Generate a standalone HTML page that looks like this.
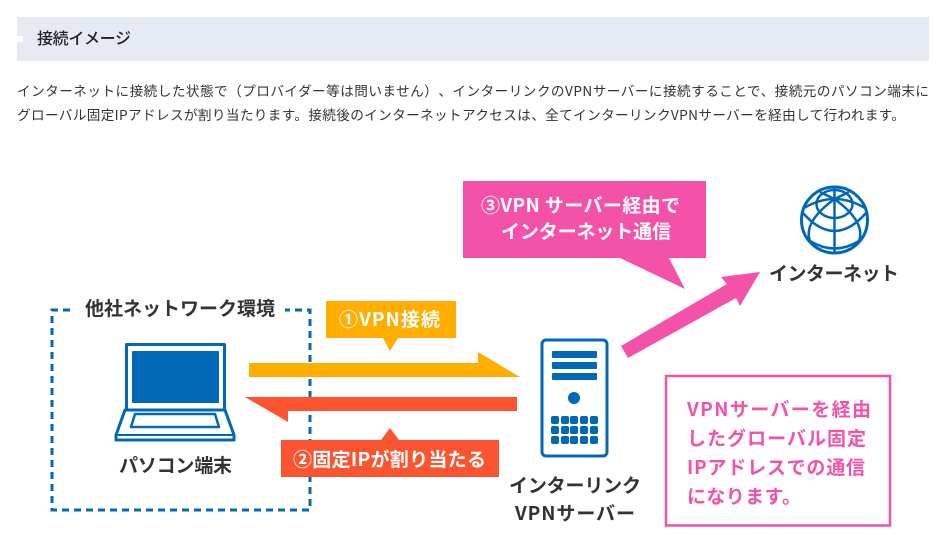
<!DOCTYPE html>
<html lang="ja">
<head>
<meta charset="utf-8">
<title>接続イメージ</title>
<style>
html,body{margin:0;padding:0;background:#fff;width:942px;height:560px;overflow:hidden}
svg{display:block}
text{font-family:"Liberation Sans","Noto Sans CJK JP",sans-serif;text-spacing-trim:space-all}
.cjk{font-family:"Noto Sans CJK JP","Liberation Sans",sans-serif}
.b{font-weight:700;font-size:19px}
.d{fill:#333}
.w{fill:#fff}
.p{fill:#f452a8}
</style>
</head>
<body>
<svg width="942" height="560" viewBox="0 0 942 560" xmlns="http://www.w3.org/2000/svg">
<rect x="17" y="17" width="912" height="44" fill="#e6eaf3"/>
<rect x="17" y="36" width="6" height="6" fill="#fff"/>
<text class="cjk" x="37" y="44" font-size="16" font-weight="500" fill="#222" textLength="94" lengthAdjust="spacing">接続イメージ</text>
<text class="cjk" x="17" y="96" font-size="13.600" fill="#333" textLength="912" lengthAdjust="spacing">インターネットに接続した状態で（プロバイダー等は問いません）、インターリンクのVPNサーバーに接続することで、接続元のパソコン端末に</text>
<text class="cjk" x="17" y="120" font-size="13.600" fill="#333" textLength="888" lengthAdjust="spacing">グローバル固定IPアドレスが割り当たります。接続後のインターネットアクセスは、全てインターリンクVPNサーバーを経由して行われます。</text>

<g fill="none" stroke="#0068b7" stroke-width="3" stroke-dasharray="7 5">
<path d="M70 310H52V510H310V310H285"/>
</g>
<text class="cjk b d" x="85" y="315" textLength="190" lengthAdjust="spacing">他社ネットワーク環境</text>

<g fill="none" stroke="#0068b7" stroke-width="3" stroke-linejoin="round">
<path d="M126.500 409V344.500H224.500V409"/>
<path d="M125 410H225L234 435V440H116V435Z"/>
<path d="M135 414H215L219 427H131Z" stroke-width="2.500"/>
<path d="M116 435H234" stroke-width="2"/>
</g>
<rect x="132" y="351" width="87" height="52" rx="1" fill="#0068b7"/>
<text class="cjk b d" x="119" y="472" textLength="113" lengthAdjust="spacing">パソコン端末</text>

<polygon points="249,363 478,363 478,352 520,377 249,377" fill="#ffae00"/>
<polygon points="517,397 245,397 288,422 288,411 517,411" fill="#fc5431"/>

<polygon points="326,301 456,301 456,338 398,338 390,351 383,338 326,338" fill="#ffae00"/>
<text class="cjk b w" x="339" y="326" textLength="101" lengthAdjust="spacing">①VPN接続</text>
<polygon points="281,440 381,440 390,428 399,440 499,440 499,477 281,477" fill="#fc5431"/>
<text class="cjk b w" x="293" y="466" textLength="193" lengthAdjust="spacing">②固定IPが割り当たる</text>

<rect x="542" y="340" width="65" height="116" rx="4" fill="none" stroke="#0068b7" stroke-width="3"/>
<g fill="#0068b7">
<rect x="552" y="351" width="45" height="7" rx="1"/>
<rect x="552" y="362" width="45" height="7" rx="1"/>
<rect x="552" y="373" width="45" height="7" rx="1"/>
<circle cx="574" cy="398" r="6"/>
<rect x="551" y="416" width="8" height="8" rx="2"/><rect x="561" y="416" width="8" height="8" rx="2"/><rect x="570" y="416" width="8" height="8" rx="2"/><rect x="580" y="416" width="8" height="8" rx="2"/><rect x="590" y="416" width="8" height="8" rx="2"/>
<rect x="551" y="426" width="8" height="8" rx="2"/><rect x="561" y="426" width="8" height="8" rx="2"/><rect x="570" y="426" width="8" height="8" rx="2"/><rect x="580" y="426" width="8" height="8" rx="2"/><rect x="590" y="426" width="8" height="8" rx="2"/>
<rect x="551" y="436" width="8" height="8" rx="2"/><rect x="561" y="436" width="8" height="8" rx="2"/><rect x="570" y="436" width="8" height="8" rx="2"/><rect x="580" y="436" width="8" height="8" rx="2"/><rect x="590" y="436" width="8" height="8" rx="2"/>
</g>
<text class="cjk b d" x="509" y="492" textLength="132" lengthAdjust="spacing">インターリンク</text>
<text class="cjk b d" x="515" y="520" textLength="120" lengthAdjust="spacing">VPNサーバー</text>

<polygon points="463,181 706,181 706,258 669,258 685,289 620,258 463,258" fill="#f452a8"/>
<text class="cjk b w" x="481" y="212" textLength="199" lengthAdjust="spacing">③VPN サーバー経由で</text>
<text class="cjk b w" x="501" y="238" textLength="170" lengthAdjust="spacing">インターネット通信</text>

<polygon points="621,346 727,284 721,277 760,272 740,306 736,298 628,358" fill="#f452a8"/>

<g fill="none" stroke="#0068b7" stroke-width="2.500">
<circle cx="834.500" cy="220" r="33" stroke-width="3"/>
<path d="M834.500 187V253"/>
<ellipse cx="834.500" cy="204" rx="18" ry="14"/>
<path d="M804 208Q834.500 190 865 208"/>
<path d="M803 213Q834.500 249 866 213"/>
<path d="M810 241Q834.500 256 859 241"/>
<path d="M834.500 199Q803 222 810 241Q813 247 822 250"/>
<path d="M834.500 199Q866 222 859 241Q856 247 847 250"/>
<path d="M834.500 199L820 192M834.500 199L849 192"/>
</g>
<text class="cjk b d" x="769" y="280" textLength="130" lengthAdjust="spacing">インターネット</text>

<rect x="666" y="376" width="224" height="149.500" fill="none" stroke="#f452a8" stroke-width="2.500"/>
<text class="cjk b p" x="687" y="416" textLength="184" lengthAdjust="spacing">VPNサーバーを経由</text>
<text class="cjk b p" x="687" y="445" textLength="179" lengthAdjust="spacing">したグローバル固定</text>
<text class="cjk b p" x="687" y="474" textLength="178" lengthAdjust="spacing">IPアドレスでの通信</text>
<text class="cjk b p" x="687" y="503" textLength="114" lengthAdjust="spacing">になります。</text>
</svg>
</body>
</html>
